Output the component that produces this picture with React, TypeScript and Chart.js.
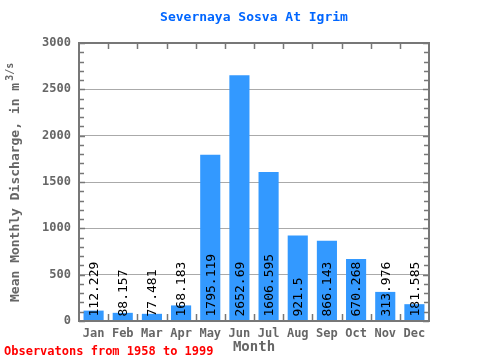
import React, { useEffect, useRef } from "react";
import { Chart, registerables } from "chart.js";

Chart.register(...registerables);

const months = ["Jan", "Feb", "Mar", "Apr", "May", "Jun", "Jul", "Aug", "Sep", "Oct", "Nov", "Dec"];
const discharge = [112.229, 88.157, 77.481, 168.183, 1795.119, 2652.69, 1606.595, 921.5, 866.143, 670.268, 313.976, 181.585];
const valueLabels = ["112.229", "88.157", "77.481", "168.183", "1795.119", "2652.69", "1606.595", "921.5", "866.143", "670.268", "313.976", "181.585"];

const titleText = "Severnaya Sosva At Igrim";
const xTitle = "Month";
const yTitleMain = "Mean Monthly Discharge, in m";
const yTitleSup = "3/s";
const footnote = "Observatons from 1958 to 1999";

const MONO = "'DejaVu Sans Mono', 'Liberation Mono', monospace";
const AXIS = "#777777";

const decorPlugin = {
  id: "decor",
  afterDatasetsDraw(chart: any) {
    const ctx = chart.ctx;
    const meta = chart.getDatasetMeta(0);
    ctx.save();
    ctx.fillStyle = "#000000";
    ctx.font = `13px ${MONO}`;
    ctx.textAlign = "left";
    ctx.textBaseline = "middle";
    meta.data.forEach((bar: any, i: number) => {
      ctx.save();
      ctx.translate(bar.x + 1, bar.base - 4);
      ctx.rotate(-Math.PI / 2);
      ctx.fillText(valueLabels[i], 0, 0);
      ctx.restore();
    });
    ctx.restore();
  },
  afterDraw(chart: any) {
    const ctx = chart.ctx;
    const a = chart.chartArea;
    const y = chart.scales.y;
    const n = months.length;
    const cw = (a.right - a.left) / n;
    ctx.save();
    // frame
    ctx.strokeStyle = AXIS;
    ctx.lineWidth = 2;
    ctx.strokeRect(a.left, a.top, a.right - a.left, a.bottom - a.top);
    ctx.lineWidth = 1.5;
    // y minor ticks
    for (let v = 0; v <= 3000; v += 100) {
      const py = Math.round(y.getPixelForValue(v)) + 0.5;
      const len = v % 500 === 0 ? 6 : 5;
      ctx.beginPath();
      ctx.moveTo(a.left, py);
      ctx.lineTo(a.left + len, py);
      ctx.moveTo(a.right, py);
      ctx.lineTo(a.right - len, py);
      ctx.stroke();
    }
    // x ticks
    for (let i = 1; i < n; i++) {
      const px = Math.round(a.left + cw * i) + 0.5;
      ctx.beginPath();
      ctx.moveTo(px, a.top);
      ctx.lineTo(px, a.top + 6);
      ctx.moveTo(px, a.bottom);
      ctx.lineTo(px, a.bottom - 7);
      ctx.stroke();
    }
    // title
    ctx.fillStyle = "#0066ff";
    ctx.font = `bold 13px ${MONO}`;
    ctx.textAlign = "center";
    ctx.textBaseline = "middle";
    ctx.fillText(titleText, (a.left + a.right) / 2, 18);
    // x title
    ctx.fillStyle = "#666666";
    ctx.font = `bold 14px ${MONO}`;
    ctx.fillText(xTitle, (a.left + a.right) / 2, 347);
    // footnote
    ctx.fillStyle = "#ff0000";
    ctx.font = `bold 12px ${MONO}`;
    ctx.textAlign = "left";
    ctx.fillText(footnote, 4, 352);
    // y title
    ctx.save();
    ctx.translate(16, 302);
    ctx.rotate(-Math.PI / 2);
    ctx.fillStyle = "#666666";
    ctx.font = `bold 13px ${MONO}`;
    ctx.textAlign = "left";
    ctx.textBaseline = "middle";
    ctx.fillText(yTitleMain, 0, 0);
    const w = ctx.measureText(yTitleMain).width;
    ctx.font = `bold 10px ${MONO}`;
    ctx.fillText(yTitleSup, w + 2, -6);
    ctx.restore();
    ctx.restore();
  },
};

export default function App() {
  const ref = useRef<HTMLCanvasElement | null>(null);
  useEffect(() => {
    document.body.style.margin = "0";
    const canvas = ref.current;
    if (!canvas) return;
    const chart = new Chart(canvas, {
      type: "bar",
      data: {
        labels: months,
        datasets: [
          {
            data: discharge,
            backgroundColor: "#3399ff",
            borderWidth: 0,
            barPercentage: 0.69,
            categoryPercentage: 1,
          },
        ],
      },
      options: {
        responsive: false,
        animation: false,
        layout: { padding: { top: 43, right: 51, left: 0, bottom: 0 } },
        plugins: {
          legend: { display: false },
          title: { display: false },
          tooltip: { enabled: false },
        },
        scales: {
          x: {
            grid: { display: false, drawTicks: false },
            border: { display: false },
            ticks: {
              color: "#666666",
              font: { family: MONO, size: 12, weight: "bold" },
              padding: 6,
              maxRotation: 0,
            },
            afterFit(scale: any) {
              scale.height = 39;
            },
          },
          y: {
            min: 0,
            max: 3000,
            grid: {
              drawTicks: false,
              color: (c: any) => (c.tick && c.tick.value > 0 && c.tick.value < 3000 ? "#aaaaaa" : "rgba(0,0,0,0)"),
              lineWidth: 1,
            },
            border: { display: false },
            ticks: {
              stepSize: 500,
              color: "#666666",
              font: { family: MONO, size: 12, weight: "bold" },
              padding: 8,
              callback: (v: any) => String(v),
            },
            afterFit(scale: any) {
              scale.width = 79;
            },
          },
        },
      },
      plugins: [decorPlugin],
    });
    return () => chart.destroy();
  }, []);
  return <canvas ref={ref} width={480} height={360} style={{ display: "block" }} />;
}
